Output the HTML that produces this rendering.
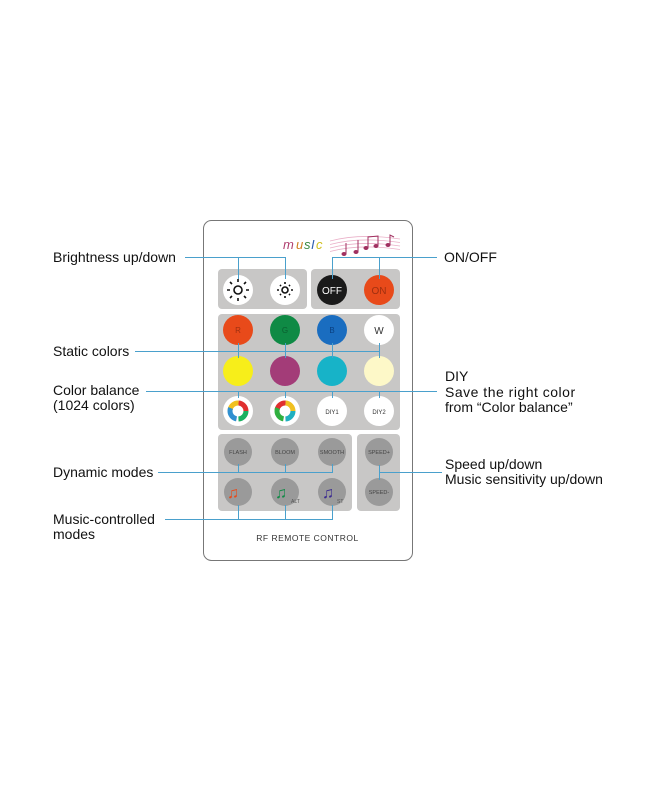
<!DOCTYPE html>
<html><head><meta charset="utf-8"><style>
html,body{margin:0;padding:0;background:#fff;}
svg{display:block}
text{font-family:"Liberation Sans",Arial,sans-serif;}
</style></head><body>
<svg width="650" height="800" viewBox="0 0 650 800" xmlns="http://www.w3.org/2000/svg">
<rect x="203.5" y="220.5" width="209" height="340" rx="8" fill="#fff" stroke="#777" stroke-width="1"/>
<!-- music logo -->
<text x="283" y="249" font-size="13" font-style="italic" font-family="Liberation Serif,serif" fill="#b04070">m</text>
<text x="296" y="249" font-size="13" font-style="italic" font-family="Liberation Serif,serif" fill="#d08020">u</text>
<text x="304" y="249" font-size="13" font-style="italic" font-family="Liberation Serif,serif" fill="#3a8a40">s</text>
<text x="311" y="249" font-size="13" font-style="italic" font-family="Liberation Serif,serif" fill="#3060b0">I</text>
<text x="316" y="249" font-size="13" font-style="italic" font-family="Liberation Serif,serif" fill="#d0c020">c</text>
<g stroke="#eab0c8" stroke-width="0.8" fill="none"><path d="M330 241 Q360 233 400 239"/><path d="M330 244.5 Q360 236.5 400 242.5"/><path d="M330 248 Q360 240 400 246"/><path d="M330 251.5 Q360 243.5 400 249.5"/></g>
<g fill="#a03060" stroke="#a03060" stroke-width="1">
<ellipse cx="344" cy="254" rx="2.5" ry="2" stroke="none"/><path d="M346 254V243" fill="none"/>
<ellipse cx="356" cy="252" rx="2.5" ry="2" stroke="none"/><path d="M358 252V240" fill="none"/>
<ellipse cx="366" cy="248" rx="2.5" ry="2" stroke="none"/><path d="M368 248V237L378 236V246" fill="none"/>
<ellipse cx="376" cy="246" rx="2.5" ry="2" stroke="none"/>
<ellipse cx="388" cy="245" rx="2.5" ry="2" stroke="none"/><path d="M390 245V235l4 2" fill="none"/>
</g>
<!-- panels -->
<g fill="#c8c7c6">
<rect x="218" y="269" width="89" height="40" rx="4"/>
<rect x="311" y="269" width="89" height="40" rx="4"/>
<rect x="218" y="314" width="182" height="116" rx="4"/>
<rect x="218" y="434" width="134" height="77" rx="4"/>
<rect x="357" y="434" width="43" height="77" rx="4"/>
</g>
<!-- buttons -->
<g stroke="none">
<circle cx="238" cy="290" r="15" fill="#fff"/>
<circle cx="285" cy="290" r="15" fill="#fff"/>
<circle cx="332" cy="290" r="15" fill="#1a1a1a"/>
<circle cx="379" cy="290" r="15" fill="#e84a1a"/>
<circle cx="238" cy="330" r="15" fill="#e84a1a"/>
<circle cx="285" cy="330" r="15" fill="#0f8a45"/>
<circle cx="332" cy="330" r="15" fill="#1a6dc0"/>
<circle cx="379" cy="330" r="15" fill="#fff"/>
<circle cx="238" cy="371" r="15" fill="#f7ee1a"/>
<circle cx="285" cy="371" r="15" fill="#a33c78"/>
<circle cx="332" cy="371" r="15" fill="#17b3c8"/>
<circle cx="379" cy="371" r="15" fill="#fdf8c8"/>
<circle cx="238" cy="411" r="15" fill="#fff"/>
<circle cx="285" cy="411" r="15" fill="#fff"/>
<circle cx="332" cy="411" r="15" fill="#fff"/>
<circle cx="379" cy="411" r="15" fill="#fff"/>
</g>
<!-- color rings -->
<g fill="none" stroke-width="5">
<circle cx="238" cy="411" r="8" stroke="#1ab060" stroke-dasharray="12 38"/>
<circle cx="238" cy="411" r="8" stroke="#e03030" stroke-dasharray="12 38" stroke-dashoffset="12"/>
<circle cx="238" cy="411" r="8" stroke="#f0c020" stroke-dasharray="12 38" stroke-dashoffset="24"/>
<circle cx="238" cy="411" r="8" stroke="#3090d0" stroke-dasharray="14 36" stroke-dashoffset="36"/>
<circle cx="285" cy="411" r="8" stroke="#20b0c0" stroke-dasharray="12 38"/>
<circle cx="285" cy="411" r="8" stroke="#f0c020" stroke-dasharray="12 38" stroke-dashoffset="12"/>
<circle cx="285" cy="411" r="8" stroke="#e03030" stroke-dasharray="12 38" stroke-dashoffset="24"/>
<circle cx="285" cy="411" r="8" stroke="#30b040" stroke-dasharray="14 36" stroke-dashoffset="36"/>
</g>
<!-- sun icons -->
<g stroke="#111" stroke-width="1.6" fill="none">
<circle cx="238" cy="290" r="4"/>
<path d="M238 282v-3M238 298v3M230 290h-3M246 290h3M232 284l-2-2M244 296l2 2M244 284l2-2M232 296l-2 2"/>
<circle cx="285" cy="290" r="3"/>
<path d="M285 284v-2M285 296v2M279 290h-2M291 290h2M281 286l-1-1M289 294l1 1M289 286l1-1M281 294l-1 1"/>
</g>
<g font-size="9" text-anchor="middle">
<text x="332" y="294" fill="#fff" font-size="10">OFF</text>
<text x="379" y="294" fill="#a03010" font-size="10">ON</text>
<text x="238" y="333" fill="#a03010" font-size="8">R</text>
<text x="285" y="333" fill="#0a6030" font-size="8">G</text>
<text x="332" y="333" fill="#0a4080" font-size="8">B</text>
<text x="379" y="334" fill="#333" font-size="10">W</text>
<text x="332" y="414" fill="#333" font-size="6">DIY1</text>
<text x="379" y="414" fill="#333" font-size="6">DIY2</text>
</g>
<!-- dynamic -->
<g fill="#9a9a9a">
<circle cx="238" cy="452" r="14"/><circle cx="285" cy="452" r="14"/><circle cx="332" cy="452" r="14"/>
<circle cx="238" cy="492" r="14"/><circle cx="285" cy="492" r="14"/><circle cx="332" cy="492" r="14"/>
<circle cx="379" cy="452" r="14"/><circle cx="379" cy="492" r="14"/>
</g>
<g font-size="5.5" fill="#444" text-anchor="middle">
<text x="238" y="454">FLASH</text><text x="285" y="454">BLOOM</text><text x="332" y="454">SMOOTH</text>
<text x="379" y="454">SPEED+</text><text x="379" y="494">SPEED-</text>
</g>
<text x="233" y="498" font-size="16" fill="#e84a1a" text-anchor="middle">♫</text>
<text x="281" y="498" font-size="16" fill="#0f8a45" text-anchor="middle">♫</text>
<text x="328" y="498" font-size="16" fill="#3a2a90" text-anchor="middle">♫</text>
<text x="291" y="503" font-size="5" fill="#555">ALT</text>
<text x="337" y="503" font-size="5" fill="#555">ST</text>
<text x="307.5" y="541" font-size="8.5" fill="#333" text-anchor="middle" letter-spacing="0.5">RF REMOTE CONTROL</text>
<!-- connectors -->
<g stroke="#4aa0cc" stroke-width="1" fill="none">
<path d="M185 257.5H285.5V279M238.5 257.5V279"/>
<path d="M437 257.5H332.5V279M379.5 257.5V279"/>
<path d="M135 351.5H379.5M238.5 343V358M285.5 343V358M332.5 343V358M379.5 343V358"/>
<path d="M146 391.5H437M238.5 391.5V398M285.5 391.5V398M332.5 391.5V398M379.5 391.5V398"/>
<path d="M158 472.5H332.5V464M238.5 464V472.5M285.5 464V472.5"/>
<path d="M165 519.5H332.5V505M238.5 505V519.5M285.5 505V519.5"/>
<path d="M379.5 465V480M379.5 472.5H442"/>
</g>
<!-- labels -->
<g font-size="14" fill="#111">
<text x="53" y="262">Brightness up/down</text>
<text x="53" y="356">Static colors</text>
<text x="53" y="395">Color balance</text>
<text x="53" y="410">(1024 colors)</text>
<text x="53" y="477">Dynamic modes</text>
<text x="53" y="524">Music-controlled</text>
<text x="53" y="539">modes</text>
<text x="444" y="262">ON/OFF</text>
<text x="445" y="381">DIY</text>
<text x="445" y="397" letter-spacing="0.5">Save the right color</text>
<text x="445" y="412">from “Color balance”</text>
<text x="445" y="469">Speed up/down</text>
<text x="445" y="484">Music sensitivity up/down</text>
</g>
</svg>
</body></html>
